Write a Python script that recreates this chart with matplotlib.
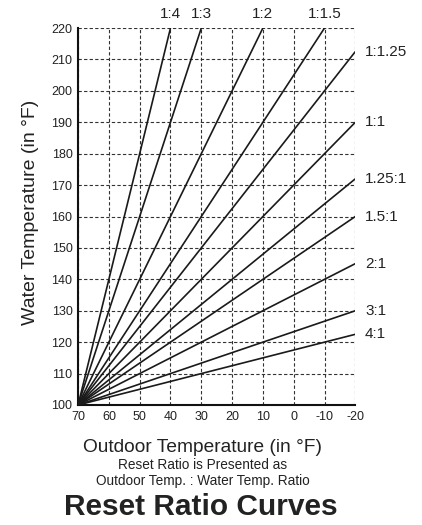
import matplotlib.pyplot as plt

# reset ratio curves: every line starts at 70 F outdoor / 100 F water
start_outdoor = 70
start_water = 100
ratio_labels = ['1:4', '1:3', '1:2', '1:1.5', '1:1.25', '1:1', '1.25:1', '1.5:1', '2:1', '3:1', '4:1']
end_outdoor = [40, 30, 10, -10, -20, -20, -20, -20, -20, -20, -20]
end_water = [220, 220, 220, 220, 212.5, 190, 172, 160, 145, 130, 122.5]

x_ticks = [70, 60, 50, 40, 30, 20, 10, 0, -10, -20]
y_ticks = [100, 110, 120, 130, 140, 150, 160, 170, 180, 190, 200, 210, 220]

plt.rcParams['font.family'] = ['Liberation Sans', 'DejaVu Sans']
plt.rcParams['axes.unicode_minus'] = False

fig = plt.figure(figsize=(4.22, 5.25), dpi=100)
ax = fig.add_axes([0.185, 0.2286, 0.657, 0.718])

for lab, xe, ye in zip(ratio_labels, end_outdoor, end_water):
    ax.plot([start_outdoor, xe], [start_water, ye], color='#1a1a1a', linewidth=1.2,
            solid_capstyle='butt', zorder=3)
    if ye >= 220:
        ax.annotate(lab, (xe, ye), xytext=(0, 5), textcoords='offset points',
                    ha='center', va='bottom', fontsize=11, color='#222222',
                    annotation_clip=False)
    else:
        ax.annotate(lab, (xe, ye), xytext=(7, 0), textcoords='offset points',
                    ha='left', va='center', fontsize=11, color='#222222',
                    annotation_clip=False)

ax.set_xlim(70, -20)
ax.set_ylim(100, 220)
ax.set_xticks(x_ticks)
ax.set_yticks(y_ticks)
ax.tick_params(length=0, labelsize=9, pad=4, colors='#222222')
ax.grid(True, linestyle=(0, (3, 2)), color='#333333', linewidth=0.8)

for side in ['top', 'right']:
    ax.spines[side].set_visible(False)
for side in ['left', 'bottom']:
    ax.spines[side].set_linewidth(1.5)
    ax.spines[side].set_color('#111111')

ax.set_ylabel('Water Temperature (in °F)', fontsize=14, color='#222222')
ax.yaxis.set_label_coords(39 / 422, 1 - 212 / 525, transform=fig.transFigure)

fig.text(0.48, 1 - 447 / 525, 'Outdoor Temperature (in °F)', ha='center', va='center',
         fontsize=13.8, color='#222222')
fig.text(0.48, 1 - 465 / 525, 'Reset Ratio is Presented as', ha='center', va='center',
         fontsize=9.8, color='#222222')
fig.text(0.48, 1 - 481 / 525, 'Outdoor Temp. : Water Temp. Ratio', ha='center', va='center',
         fontsize=9.8, color='#222222')
fig.text(0.475, 1 - 507 / 525, 'Reset Ratio Curves', ha='center', va='center',
         fontsize=21.5, fontweight='bold', color='#222222')

fig.savefig('out.png', dpi=100)
